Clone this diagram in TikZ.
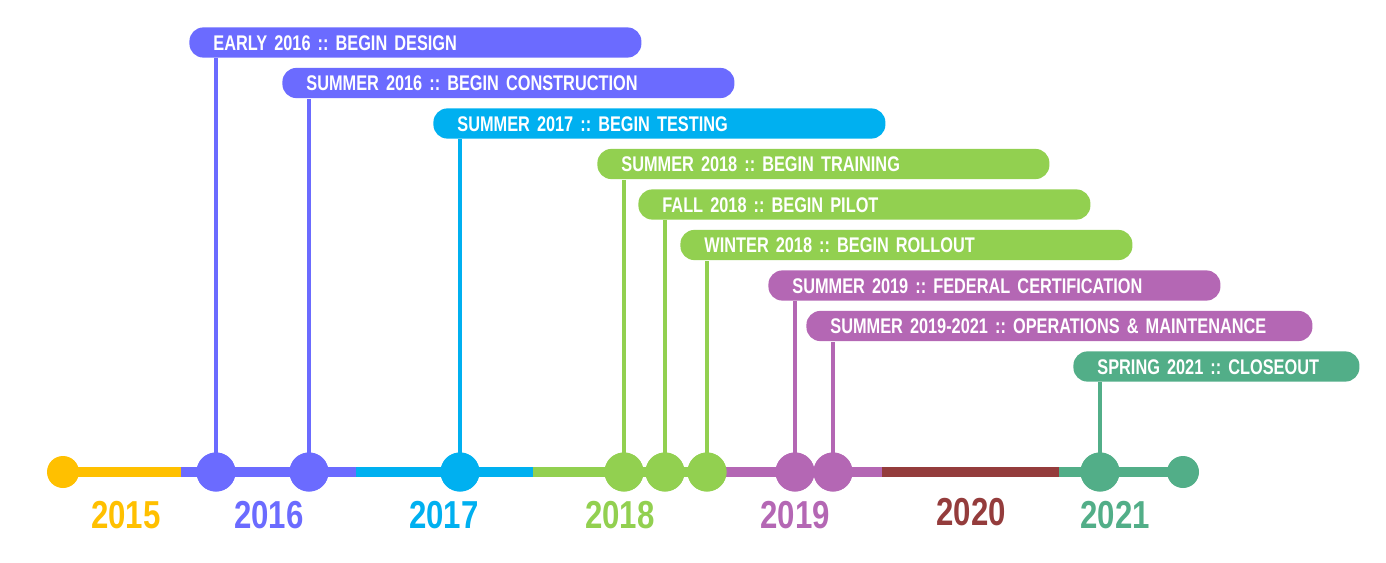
\documentclass[tikz,border=0pt]{standalone}
\usepackage{fontspec}
\newfontfamily\condfont{Liberation Sans}[FakeStretch=0.80]
\newfontfamily\barfont{Liberation Sans}[FakeStretch=0.77]
\usetikzlibrary{positioning}

\definecolor{yrA}{HTML}{FFC000}
\definecolor{yrB}{HTML}{6B6BFF}
\definecolor{yrC}{HTML}{00B0F0}
\definecolor{yrD}{HTML}{92D050}
\definecolor{yrE}{HTML}{B467B4}
\definecolor{yrF}{HTML}{943C3C}
\definecolor{yrG}{HTML}{52AE88}

\begin{document}
\frenchspacing
\begin{tikzpicture}[x=0.5pt, y=-0.5pt,
		  % Define the style of the timeline segments
		  segment/.style={line width=5pt},
		  % Define the style of the milestone dots
		  milestone/.style={circle, minimum size=19.5pt, inner sep=0pt},
		  % Define the style of the end dots
		  enddot/.style={circle, minimum size=16pt, inner sep=0pt},
		  % Define the style of the stems
		  stem/.style={line width=1.8pt},
		  % Define the style of the milestone bars
		  bar/.style={rounded corners=7pt, anchor=north west, inner xsep=12pt, inner ysep=3.75pt,
		    text height=7.6pt, text depth=0pt, align=left, text=white, font=\barfont\bfseries\fontsize{10.6}{12}\selectfont},
		  % Define the style of the year labels
		  yearlabel/.style={font=\condfont\bfseries\fontsize{19.5}{22}\selectfont}
		  ]
		  \useasboundingbox (0,0) rectangle (1386,562);

		  % Segment boundaries
		  \foreach \j/\x in {0/63, 1/181, 2/356, 3/533, 4/708, 5/882, 6/1059, 7/1183} {
		    \coordinate (s\j) at (\x, 472);
		  }

		  % Timeline segments
		  \foreach \j/\k/\c in {0/1/yrA, 1/2/yrB, 2/3/yrC, 3/4/yrD, 4/5/yrE, 5/6/yrF, 6/7/yrG} {
		    \draw[segment, \c] (s\j) -- (s\k);
		  }

		  % Year labels
		  \foreach \j/\x/\y/\c in {2015/126/515/yrA, 2016/269/515/yrB, 2017/444/515/yrC, 2018/620/515/yrD,
		    2019/795/515/yrE, 2020/971/512/yrF, 2021/1115/515/yrG} {
		    \node[yearlabel, text=\c] (year\j) at (\x, \y) {\j};
		  }

		  % End dots
		  \node[enddot, fill=yrA] (start) at (s0) {};
		  \node[enddot, fill=yrG] (end) at (s7) {};

		  % Milestone bars, stems and dots
		  \foreach \i/\x/\w/\c/\t in {
		    1/189/202/yrB/{EARLY 2016 :: BEGIN DESIGN},
		    2/282/202/yrB/{SUMMER 2016 :: BEGIN CONSTRUCTION},
		    3/433/202/yrC/{SUMMER 2017 :: BEGIN TESTING},
		    4/597/202/yrD/{SUMMER 2018 :: BEGIN TRAINING},
		    5/638/202/yrD/{FALL 2018 :: BEGIN PILOT},
		    6/680/202/yrD/{WINTER 2018 :: BEGIN ROLLOUT},
		    7/768/202/yrE/{SUMMER 2019 :: FEDERAL CERTIFICATION},
		    8/806/229/yrE/{SUMMER 2019-2021 :: OPERATIONS \& MAINTENANCE},
		    9/1073/119/yrG/{SPRING 2021 :: CLOSEOUT}} {
		    \node[bar, fill=\c, text width=\w pt] (bar\i) at (\x, {27 + 40.5*(\i-1)}) {\t};
		    \node[milestone, fill=\c] (dot\i) at (\x + 27, 472) {};
		    \draw[stem, \c] (dot\i.center) -- (dot\i |- bar\i.south);
		    \node[milestone, fill=\c] at (dot\i) {};
		  }
\end{tikzpicture}
\end{document}
